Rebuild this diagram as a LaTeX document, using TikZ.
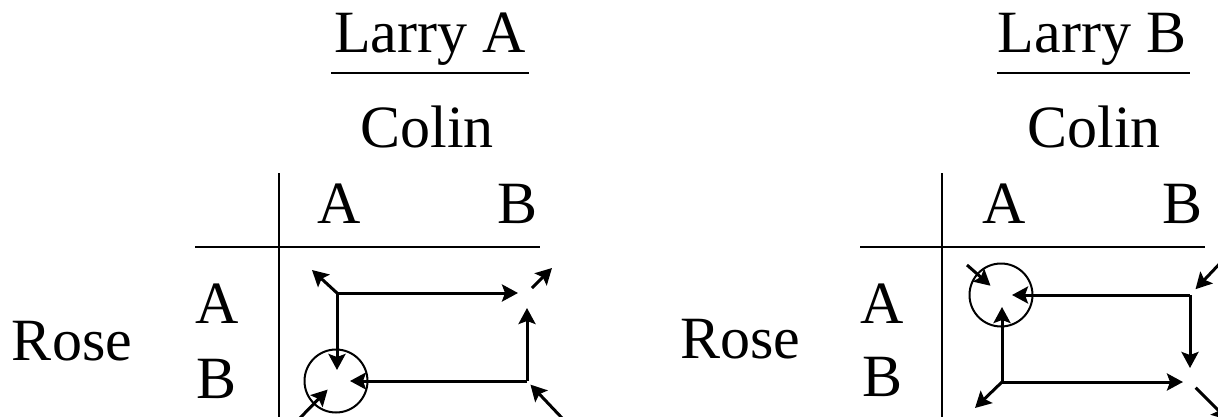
\documentclass[tikz,border=0pt]{standalone}
\usepackage{fontspec}
\setmainfont{Liberation Serif}
\usetikzlibrary{arrows.meta}
\begin{document}
\begin{tikzpicture}[x=1pt,y=-1pt,
  lbl/.style={font=\fontsize{60}{72}\selectfont, inner sep=0pt, anchor=base},
  rule/.style={line width=2.6pt},
  mv/.style={line width=3pt, -{Stealth[length=16pt,width=17pt,inset=3pt]}},
  eq/.style={circle, draw, line width=2pt, minimum size=63pt, inner sep=0pt},
]
\useasboundingbox (0,0) rectangle (1218,417);
\clip (0,0) rectangle (1218,417);

% ---------- left game: Larry plays A ----------
\node[lbl] (titleL) at (430,53) {Larry A};
\draw[rule] (331,73) -- (529,73);
\node[lbl] (colinL) at (427,147) {Colin};
\node[lbl] (cAL) at (339,223) {A};
\node[lbl] (cBL) at (518,223) {B};
\node[lbl] (rAL) at (217,323) {A};
\node[lbl] (rBL) at (217,398) {B};
\node[lbl] (roseL) at (72,360) {Rose};
\draw[rule] (279,173) -- (279,420);
\draw[rule] (195,247) -- (540,247);

\coordinate (lAA) at (337,293);
\coordinate (lAB) at (527,293);
\coordinate (lBB) at (527,381);
\node[eq] (lBA) at (336,381) {};
\coordinate (lAAo) at (312,270);
\coordinate (lABo) at (552,268);
\coordinate (lBBi) at (562,418);
\coordinate (lBAi) at (300,418);

\draw[mv, shorten >=9pt] (lAA) -- (lAB);
\draw[mv, shorten >=11pt] (lAA) -- (lAA |- lBA);
\draw[mv, shorten >=15pt] (lBB) -- (lAB);
\draw[mv, shorten >=14pt] (lBB) -- (lBA.center);
\draw[mv] (lAA) -- (lAAo);
\draw[mv, shorten <=7pt] (lAB) -- (lABo);
\draw[mv, shorten >=5pt] (lBBi) -- (lBB);
\draw[mv, shorten >=12pt] (lBAi) -- (lBA.center);

% ---------- right game: Larry plays B ----------
\node[lbl] (titleR) at (1092,53) {Larry B};
\draw[rule] (997,73) -- (1190,73);
\node[lbl] (colinR) at (1094,147) {Colin};
\node[lbl] (cAR) at (1004,223) {A};
\node[lbl] (cBR) at (1182,223) {B};
\node[lbl] (rAR) at (882,323) {A};
\node[lbl] (rBR) at (882,396) {B};
\node[lbl] (roseR) at (740,358) {Rose};
\draw[rule] (942,173) -- (942,420);
\draw[rule] (860,247) -- (1205,247);

\node[eq] (rAA) at (1001,295) {};
\coordinate (rAB) at (1190,295);
\coordinate (rBA) at (1002,382);
\coordinate (rBB) at (1190,382);
\coordinate (rAAi) at (967,265);
\coordinate (rABi) at (1225,258);
\coordinate (rBAo) at (975,408);
\coordinate (rBBo) at (1228,420);

\draw[mv, shorten >=11pt] (rAB) -- (rAA.center);
\draw[mv, shorten >=14pt] (rAB) -- (rBB);
\draw[mv, shorten >=12pt] (rBA) -- (rBA |- rAA);
\draw[mv, shorten >=7pt] (rBA) -- (rBB);
\draw[mv] (rBA) -- (rBAo);
\draw[mv, shorten >=14pt] (rAAi) -- (rAA.center);
\draw[mv, shorten >=8pt] (rABi) -- (rAB);
\draw[mv, shorten <=8pt] (rBB) -- (rBBo);
\end{tikzpicture}
\end{document}
